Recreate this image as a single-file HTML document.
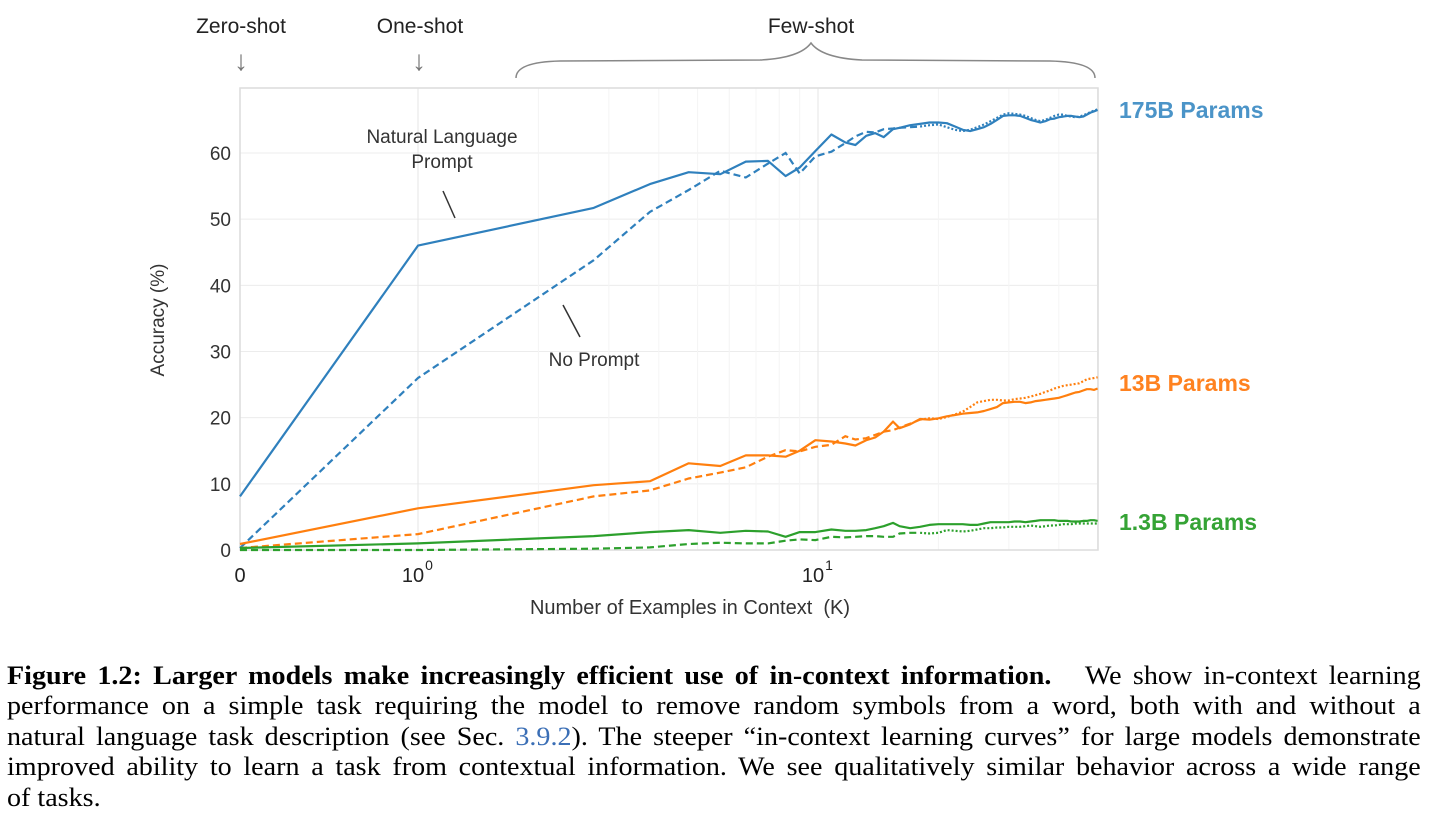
<!DOCTYPE html>
<html><head><meta charset="utf-8">
<style>
html,body{margin:0;padding:0;background:#fff;}
body{width:1441px;height:830px;overflow:hidden;position:relative;}
svg text{font-family:"Liberation Sans",sans-serif;}
.cap{position:absolute;left:7px;font-family:"Liberation Serif",serif;font-size:26px;color:#000;white-space:nowrap;transform-origin:0 0;transform:scaleX(1.08);width:1309px;text-align:justify;text-align-last:justify;line-height:30px;overflow:hidden;}
.cap.last{text-align-last:left;}
.lnk{color:#3b6fb6;}
</style></head>
<body>
<svg id="chart" width="1441" height="640" style="position:absolute;left:0;top:0">
  <g id="grid"></g>
  <rect x="240" y="88" width="858" height="462" fill="none" stroke="#dcdcdc" stroke-width="1.5"/>
  <g id="series"></g>
  <g id="axes"></g>
  <text x="241" y="33" font-size="21" text-anchor="middle" fill="#222">Zero-shot</text>
  <text x="241" y="70" font-size="28" text-anchor="middle" fill="#777">↓</text>
  <text x="420" y="33" font-size="21" text-anchor="middle" fill="#222">One-shot</text>
  <text x="419" y="70" font-size="28" text-anchor="middle" fill="#777">↓</text>
  <text x="811" y="33" font-size="21" text-anchor="middle" fill="#222">Few-shot</text>
  <path d="M516,78 Q516,62 560,61 L760,60 Q800,58 811,43 Q822,58 862,60 L1050,61 Q1095,62 1095,78" fill="none" stroke="#888" stroke-width="1.5"/>
  <text x="1119" y="118" font-size="23" font-weight="bold" fill="#4b94c8">175B Params</text>
  <text x="1119" y="391" font-size="23" font-weight="bold" fill="#ff8220">13B Params</text>
  <text x="1119" y="530" font-size="23" font-weight="bold" fill="#35a335">1.3B Params</text>
  <text x="442" y="143" font-size="19" text-anchor="middle" fill="#333">Natural Language</text>
  <text x="442" y="168" font-size="19" text-anchor="middle" fill="#333">Prompt</text>
  <line x1="443" y1="191" x2="455" y2="218" stroke="#333" stroke-width="1.5"/>
  <text x="594" y="366" font-size="19" text-anchor="middle" fill="#333">No Prompt</text>
  <line x1="563" y1="305" x2="580" y2="337" stroke="#333" stroke-width="1.5"/>
  <text transform="translate(164,320) rotate(-90)" font-size="19" text-anchor="middle" fill="#333">Accuracy (%)</text>
  <text x="690" y="614" font-size="20" text-anchor="middle" fill="#333" xml:space="preserve">Number of Examples in Context  (K)</text>
</svg>

<div class="cap" style="top:661px"><b>Figure 1.2: Larger models make increasingly efficient use of in-context information.</b>&nbsp;&nbsp; We show in-context learning</div>
<div class="cap" style="top:691px">performance on a simple task requiring the model to remove random symbols from a word, both with and without a</div>
<div class="cap" style="top:722px">natural language task description (see Sec. <span class="lnk">3.9.2</span>). The steeper “in-context learning curves” for large models demonstrate</div>
<div class="cap" style="top:752px">improved ability to learn a task from contextual information. We see qualitatively similar behavior across a wide range</div>
<div class="cap last" style="top:783px">of tasks.</div>

<script>
const kValues = [0,1,2.75,3.8,4.75,5.7,6.6,7.5,8.3,9,9.85,10.8,11.7,12.4,13.2,13.9,14.6,15.4,16,17,18,19,20,21,22,23,24,25,26,27,28,29,30,31,32,33,34,35,36,37,38,39,40,41,42,43,44,45,46,47,48,49,50];
const blueNL = [8.1,46.0,51.7,55.3,57.1,56.8,58.7,58.8,56.5,57.8,60.3,62.8,61.6,61.2,62.6,63.0,62.4,63.6,63.8,64.2,64.4,64.6,64.6,64.5,64.0,63.5,63.3,63.6,63.9,64.4,65.0,65.6,65.7,65.7,65.6,65.3,65.0,64.8,64.6,64.8,65.1,65.2,65.4,65.5,65.6,65.6,65.5,65.4,65.5,65.8,66.1,66.3,66.5];
const blueNP = [0.3,26.0,43.8,51.1,54.4,57.3,56.3,58.4,60.0,56.9,59.5,60.2,61.5,62.5,63.2,63.1,63.6,63.7,63.8,63.9,64.0,64.2,64.3,63.9,63.5,63.3,63.5,63.9,64.3,64.8,65.3,65.8,66.0,65.9,65.8,65.6,65.3,65.0,64.8,65.0,65.3,65.6,65.8,65.8,65.6,65.5,65.4,65.5,65.7,65.9,66.2,66.4,66.6];
const orangeNL = [0.9,6.3,9.8,10.4,13.1,12.7,14.3,14.3,14.1,15.0,16.6,16.4,16.1,15.8,16.6,17.0,17.9,19.4,18.4,19.0,19.8,19.7,19.9,20.2,20.4,20.6,20.7,20.8,21.0,21.3,21.6,22.2,22.3,22.4,22.4,22.2,22.3,22.5,22.6,22.7,22.8,22.9,23.0,23.2,23.4,23.6,23.8,23.9,24.1,24.3,24.3,24.2,24.4];
const orangeNP = [0.3,2.4,8.1,9.0,10.8,11.7,12.5,14.1,15.1,14.9,15.6,15.9,17.2,16.7,16.9,17.4,17.9,18.1,18.5,19.1,19.7,19.9,19.8,20.1,20.5,20.9,21.6,22.3,22.5,22.7,22.7,22.6,22.6,22.8,22.9,23.0,23.2,23.4,23.6,23.9,24.1,24.4,24.6,24.8,24.9,25.0,25.1,25.2,25.5,25.8,25.9,26.0,26.1];
const greenNL = [0.3,1.0,2.1,2.7,3.0,2.6,2.9,2.8,2.0,2.7,2.7,3.1,2.9,2.9,3.0,3.3,3.6,4.1,3.6,3.3,3.5,3.8,3.9,3.9,3.9,3.9,3.8,3.8,4.0,4.2,4.2,4.2,4.2,4.3,4.3,4.2,4.3,4.4,4.5,4.5,4.5,4.5,4.4,4.4,4.4,4.3,4.3,4.3,4.4,4.4,4.5,4.5,4.4];
const greenNP = [0.0,0.0,0.2,0.4,0.9,1.1,1.0,1.0,1.4,1.6,1.5,2.0,1.9,2.0,2.1,2.1,2.0,2.0,2.5,2.6,2.6,2.5,2.6,3.0,2.9,2.8,2.9,3.1,3.3,3.3,3.4,3.4,3.5,3.5,3.5,3.6,3.7,3.6,3.5,3.6,3.7,3.7,3.8,3.9,3.9,3.9,4.0,4.0,4.0,4.0,4.0,4.0,4.0];
const yTicks = [0,10,20,30,40,50,60];
const xMinorTicks = [2,3,4,5,6,7,8,9,20,30,40,50];

const NS = 'http://www.w3.org/2000/svg';
function xs(k){ return k < 1 ? 240 + 178*k : 418 + 400*Math.log10(k); }
function ys(v){ return 550 - 6.617*v; }
function mk(tag, attrs, parent){
  const e = document.createElementNS(NS, tag);
  for (const a in attrs) e.setAttribute(a, attrs[a]);
  parent.appendChild(e); return e;
}
const grid = document.getElementById('grid');
const axes = document.getElementById('axes');
const series = document.getElementById('series');

yTicks.forEach(t => {
  const g = mk('line', {x1:240, x2:1098, y1:ys(t), y2:ys(t), stroke:'#ececec', 'stroke-width':1}, grid);
  
  
  const lb = mk('text', {x:231, y:ys(t)+7, 'font-size':19, 'text-anchor':'end', fill:'#333'}, axes);
  lb.textContent = t;
  
  
});
[1,10].forEach(t => {
  const g = mk('line', {x1:xs(t), x2:xs(t), y1:88, y2:550, stroke:'#e6e6e6', 'stroke-width':1}, grid);
  
  
});
xMinorTicks.forEach(t => {
  const g = mk('line', {x1:xs(t), x2:xs(t), y1:88, y2:550, stroke:'#f4f4f4', 'stroke-width':1}, grid);
  
  
});
const x0 = mk('text', {x:240, y:582, 'font-size':20, 'text-anchor':'middle', fill:'#222'}, axes);
x0.textContent = '0';


[[1,'0'],[10,'1']].forEach(p => {
  const t = mk('text', {x:xs(p[0])-5, y:582, 'font-size':20, 'text-anchor':'middle', fill:'#222'}, axes);
  t.textContent = '10';
  
  
  const s = mk('text', {x:xs(p[0])+11, y:570, 'font-size':14, 'text-anchor':'middle', fill:'#222'}, axes);
  s.textContent = p[1];
  
  
});

function path(vals, from, to){
  let d = '';
  for (let i = from; i <= to; i++) d += (i===from?'M':'L') + xs(kValues[i]).toFixed(1) + ',' + ys(vals[i]).toFixed(1);
  return d;
}
const split = 20;
const last = kValues.length - 1;
const defs = [
  ['blue', '#2f80bd', blueNL, blueNP],
  ['orange', '#ff7f0e', orangeNL, orangeNP],
  ['green', '#2ca02c', greenNL, greenNP]
];
defs.forEach(d => {
  const a = mk('path', {d:path(d[3],0,split), fill:'none', stroke:d[1], 'stroke-width':2.2, 'stroke-dasharray':'7,4'}, series);
  
  
  const b = mk('path', {d:path(d[3],split,last), fill:'none', stroke:d[1], 'stroke-width':2.2, 'stroke-dasharray':'2,2'}, series);
  
  
  const c = mk('path', {d:path(d[2],0,last), fill:'none', stroke:d[1], 'stroke-width':2.2, 'stroke-linejoin':'round'}, series);
  
  
});
</script>
</body></html>
